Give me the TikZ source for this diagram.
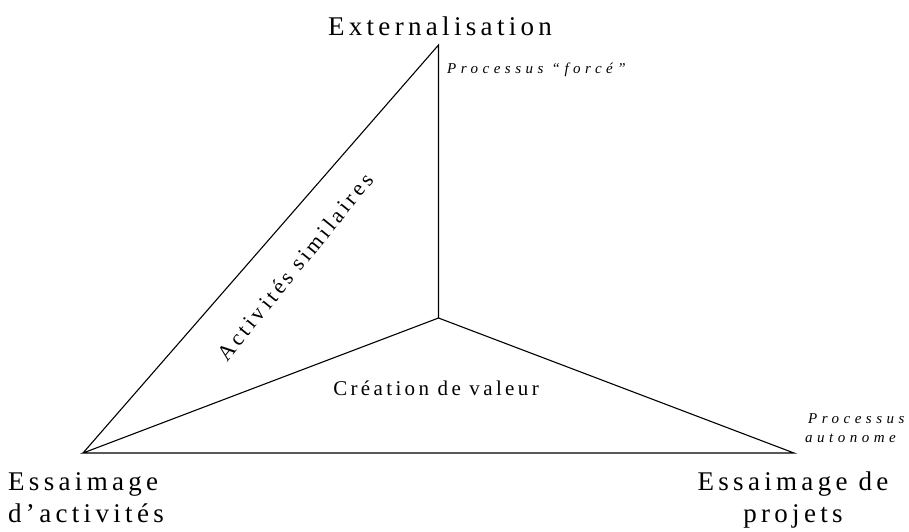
\documentclass[tikz,border=0pt]{standalone}
\usepackage{fontspec}
\setmainfont{Liberation Serif}
\newfontfamily\spaced[LetterSpace=16]{Liberation Serif}
\newfontfamily\spacedit[LetterSpace=30]{Liberation Serif Italic}
\usepackage{tikz}
\tikzset{pole/.style={font=\spaced\fontsize{27}{32}\selectfont,inner sep=0pt,anchor=base},
  proc/.style={font=\spacedit\fontsize{15}{19}\selectfont,inner sep=0pt,anchor=base west},
  zone/.style={font=\spaced\fontsize{21}{25}\selectfont,inner sep=0pt},
  edge/.style={line width=1.1pt,draw=black}}

\begin{document}
\begin{tikzpicture}[x=1pt,y=-1pt]
\useasboundingbox (0,0) rectangle (909,531);
\coordinate (top) at (438.5,45);
\coordinate (left) at (83,453);
\coordinate (right) at (794,453);
\coordinate (mid) at (438.5,318);
\draw[edge] (left)--(top)--(mid)--(right)--(left)--(mid);
\node[pole] (ext) at (440,35){Externalisation};
\node[pole,anchor=base west] (essact) at (8,490){Essaimage};
\node[pole,anchor=base west] (essact2) at (8,522){d’activités};
\node[pole] (essproj) at (793,490){Essaimage de};
\node[pole] (essproj2) at (793,522){projets};
\node[proc] (force) at (447,73){Processus “forcé”};
\node[proc] (auto) at (808,423){Processus};
\node[proc] (auto2) at (805,442){autonome};
\node[zone,anchor=base] (valeur) at (436,395){Création de valeur};
\node[zone,font=\spaced\fontsize{22}{26}\selectfont,rotate=51] (simil) at (295,267){Activités similaires};
\end{tikzpicture}
\end{document}
